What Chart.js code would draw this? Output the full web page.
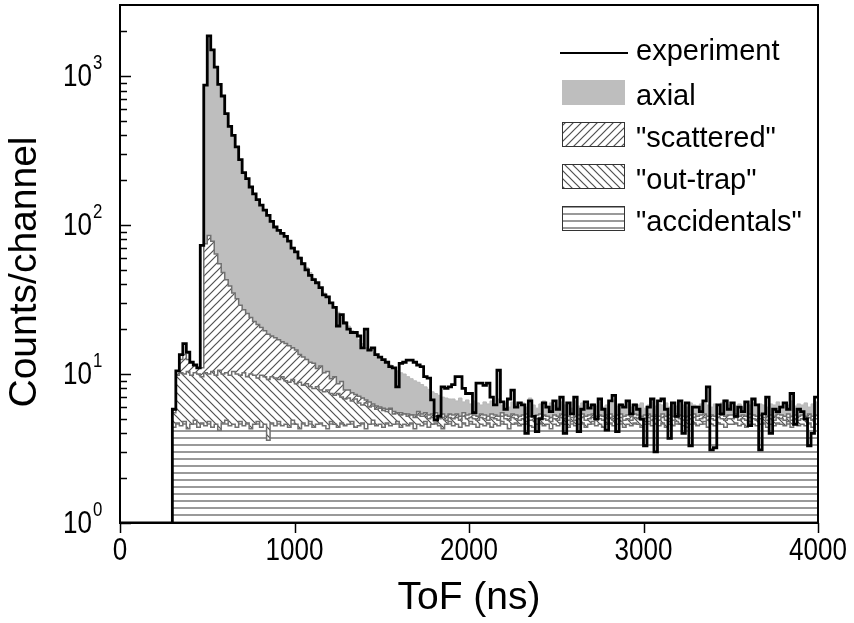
<!DOCTYPE html>
<html lang="en">
<head>
<meta charset="UTF-8">
<title>ToF spectrum</title>
<script src="https://cdn.jsdelivr.net/npm/chart.js@4"></script>
<style>
  html, body { margin: 0; padding: 0; background: #fff; }
</style>
</head>
<body>
<canvas id="tofChart" width="854" height="623"></canvas>
<script>
// channels: 20 ns wide, first channel starts at 300 ns
const tofStart = 300;
const binWidth = 20;
const tofEnd = 4000;
const yMin = 1;
const yMax = 3000;
const xTicks = [0, 1000, 2000, 3000, 4000];
const yDecades = [0, 1, 2, 3];

// counts/channel, one row = 10 channels (200 ns)
const experiment = [
  5.8, 10.5, 13.5, 16, 14, 12, 11.5, 11, 73, 870,        // 300
  1860, 1500, 1150, 880, 735, 560, 460, 400, 335, 275,   // 500
  225, 205, 180, 162, 148, 136, 126, 116, 106, 97,       // 700
  92, 88, 84, 78, 70, 66, 60, 55, 50, 46,                // 900
  43, 41, 38, 34, 33, 30, 28, 21, 25, 22,                // 1100
  20, 19, 19, 18, 15, 20, 14.5, 15, 13.5, 13,            // 1300
  12.5, 12, 11.2, 11, 8.2, 11.8, 12, 12.4, 12.4, 12,     // 1500
  11.5, 11.2, 9.6, 9.4, 6.7, 4.9, 5.2, 8.2, 8.0, 8.2,    // 1700
  8.5, 9.6, 9.6, 8, 7.4, 7.4, 5.5, 8.7, 8.7, 8.4,        // 1900
  8.7, 7.0, 6.2, 10.6, 6.5, 5.8, 6.8, 7.8, 6.0, 6.4,     // 2100
  6.2, 4.0, 6.6, 5.2, 4.1, 5.0, 6.4, 6.0, 5.6, 6.6,      // 2300
  5.8, 7.0, 4.0, 6.4, 5.4, 7.0, 4.1, 5.8, 6.5, 5.9,      // 2500
  6.2, 5.0, 6.8, 5.8, 4.2, 6.6, 7.2, 4.1, 6.2, 6.0,      // 2700
  6.6, 5.4, 6.2, 5.8, 5.0, 3.3, 6.0, 6.8, 3.0, 6.6,      // 2900
  6.8, 5.8, 3.7, 6.4, 5.2, 6.6, 4.0, 6.4, 3.3, 6.0,      // 3100
  6.0, 5.6, 6.6, 8.2, 3.1, 3.2, 6.2, 5.4, 6.6, 5.8,      // 3300
  6.4, 5.2, 6.0, 5.6, 6.5, 4.5, 6.8, 6.2, 3.1, 5.4,      // 3500
  7.0, 4.0, 5.8, 5.6, 6.0, 6.4, 5.8, 7.4, 4.6, 5.8,      // 3700
  5.6, 5.0, 3.3, 4.0, 7.0                                // 3900
];

// simulated components, each given as the top of its stacked band
const axial = [
  null, null, null, null, null, null, null, null, null, 860,
  1850, 1500, 1150, 880, 730, 560, 460, 395, 335, 275,
  225, 203, 180, 163, 148, 136, 125, 115, 106, 97,
  91, 86, 81, 76, 71, 66, 61, 56, 52, 48,
  44, 41, 38, 35, 32, 30, 28, 26, 24, 22.5,
  21, 19.5, 18.5, 17, 16, 15, 14.5, 14, 13.5, 13,
  12.5, 12, 11.5, 11, 10.5, 10.2, 10, 9.6, 9.3, 9.0,
  8.8, 8.5, 8.2, 7.9, 7.6, 7.4, 7.2, 7.0, 6.9, 6.8,
  6.8, 6.6, 6.9, 6.5, 6.7, 6.3, 6.6, 6.4, 6.2, 6.5,
  6.3, 6.6, 6.1, 6.8, 6.2, 6.4, 6.0, 6.5, 6.3, 6.1,
  6.4, 6.0, 6.9, 6.2, 5.9, 6.3, 6.6, 6.1, 6.4, 6.2,
  6.0, 6.5, 6.2, 6.3, 5.9, 6.6, 6.1, 6.4, 6.2, 6.0,
  6.3, 6.1, 6.5, 6.0, 6.2, 6.4, 6.7, 6.1, 6.3, 6.2,
  6.5, 6.0, 6.3, 6.2, 6.4, 5.9, 6.2, 6.5, 6.1, 6.3,
  6.2, 6.4, 6.0, 6.3, 6.1, 6.6, 6.2, 6.0, 6.4, 6.2,
  6.1, 6.3, 6.5, 6.2, 6.0, 6.3, 6.1, 6.4, 6.7, 6.2,
  6.4, 6.1, 6.3, 6.0, 6.5, 6.2, 6.4, 6.1, 6.3, 6.2,
  6.0, 6.3, 6.2, 6.5, 6.1, 6.4, 6.2, 6.6, 6.1, 6.3,
  6.2, 6.4, 6.0, 6.3, 6.5
];

const scattered = [
  5.8, 10.5, 12.5, 13.5, 12.5, 12, 11.5, 11, 11, 75,
  85, 78, 64, 55, 48, 43, 39, 35, 32, 29,
  27, 25.5, 24, 22.5, 21.5, 20.5, 19.5, 18.5, 18, 17.5,
  17, 16.5, 16, 15.5, 15, 14.5, 13.5, 13, 12.5, 12,
  11.8, 10.9, 11.3, 10.2, 10.4, 9.3, 9.6, 8.6, 8.9, 7.8,
  7.8, 7.5, 7.3, 7.1, 6.9, 6.7, 6.5, 6.3, 6.1, 6.0,
  5.9, 5.8, 5.9, 5.6, 5.5, 5.5, 5.4, 5.4, 5.3, 5.3,
  5.6, 5.4, 5.5, 5.3, 5.4, 5.5, 5.3, 5.4, 5.2, 5.4,
  5.3, 5.4, 5.2, 5.5, 5.3, 5.4, 5.3, 5.2, 5.4, 5.3,
  5.2, 5.4, 5.3, 5.2, 5.5, 5.3, 5.2, 5.4, 5.3, 5.2,
  5.3, 5.4, 5.2, 5.2, 5.3, 5.4, 5.3, 5.2, 5.1, 5.3,
  5.2, 5.4, 5.3, 5.2, 5.4, 5.2, 5.3, 5.4, 5.2, 5.3,
  5.4, 5.2, 5.3, 5.2, 5.3, 5.4, 5.2, 5.3, 5.4, 5.2,
  5.3, 5.2, 5.4, 5.3, 5.2, 5.3, 5.4, 5.2, 5.3, 5.2,
  5.4, 5.2, 5.3, 5.2, 5.4, 5.3, 5.2, 5.2, 5.3, 5.4,
  5.2, 5.3, 5.4, 5.2, 5.3, 5.2, 5.4, 5.3, 5.2, 5.3,
  5.3, 5.4, 5.2, 5.3, 5.2, 5.4, 5.3, 5.2, 5.3, 5.4,
  5.2, 5.3, 5.2, 5.4, 5.3, 5.2, 5.4, 5.2, 5.3, 5.2,
  5.3, 5.2, 5.4, 5.2, 5.3
];

const outTrap = [
  5.5, 9.8, 10.2, 10, 10.4, 9.8, 10.2, 10, 9.6, 10.2,
  10, 10.4, 9.8, 10.6, 10, 10.2, 9.8, 10.4, 10, 9.8,
  10.2, 9.6, 10, 9.8, 9.4, 9.8, 9.6, 9.2, 9.6, 9.4,
  9.2, 9.6, 9.0, 8.8, 9.2, 8.6, 8.8, 8.4, 8.6, 8.2,
  8.0, 8.2, 7.8, 7.6, 7.8, 7.4, 7.2, 7.4, 7.0, 6.8,
  6.9, 6.6, 6.8, 6.4, 6.2, 6.4, 6.0, 6.1, 5.8, 5.9,
  5.7, 5.6, 5.8, 5.4, 5.5, 5.3, 5.4, 5.2, 5.3, 5.1,
  5.3, 5.2, 5.2, 5.0, 5.1, 5.2, 5.0, 5.1, 4.9, 5.1,
  5.0, 5.1, 4.9, 5.2, 5.0, 5.1, 5.0, 4.9, 5.1, 5.0,
  4.9, 5.1, 5.0, 4.9, 5.2, 5.0, 4.9, 5.1, 5.0, 4.9,
  5.0, 5.1, 4.9, 4.9, 5.0, 5.1, 5.0, 4.9, 4.8, 5.0,
  4.9, 5.1, 5.0, 4.9, 5.1, 4.9, 5.0, 5.1, 4.9, 5.0,
  5.1, 4.9, 5.0, 4.9, 5.0, 5.1, 4.9, 5.0, 5.1, 4.9,
  5.0, 4.9, 5.1, 5.0, 4.9, 5.0, 5.1, 4.9, 5.0, 4.9,
  5.1, 4.9, 5.0, 4.9, 5.1, 5.0, 4.9, 4.9, 5.0, 5.1,
  4.9, 5.0, 5.1, 4.9, 5.0, 4.9, 5.1, 5.0, 4.9, 5.0,
  5.0, 5.1, 4.9, 5.0, 4.9, 5.1, 5.0, 4.9, 5.0, 5.1,
  4.9, 5.0, 4.9, 5.1, 5.0, 4.9, 5.1, 4.9, 5.0, 4.9,
  5.0, 4.9, 5.1, 4.9, 5.0
];

const accidentals = [
  4.4, 4.7, 4.5, 4.8, 4.3, 4.6, 4.9, 4.4, 4.7, 4.5,
  4.8, 4.4, 4.6, 4.2, 4.7, 4.9, 4.5, 4.6, 4.4, 4.8,
  4.5, 4.7, 4.3, 4.6, 4.8, 4.4, 4.6, 3.6, 4.7, 4.5,
  4.8, 4.5, 4.6, 4.4, 4.9, 4.6, 4.3, 4.7, 4.5, 4.8,
  4.4, 4.6, 4.7, 4.5, 4.3, 4.8, 4.6, 4.4, 4.7, 4.5,
  4.6, 4.8, 4.4, 4.5, 4.7, 4.3, 4.6, 4.9, 4.5, 4.6,
  4.4, 4.7, 4.5, 4.6, 4.8, 4.4, 4.6, 4.5, 4.7, 4.3,
  4.6, 4.5, 4.8, 4.4, 4.6, 4.7, 4.5, 4.3, 4.6, 4.8,
  4.5, 4.6, 4.4, 4.7, 4.5, 4.8, 4.6, 4.4, 4.6, 4.5,
  4.7, 4.4, 4.6, 4.5, 4.8, 4.6, 4.3, 4.6, 4.7, 4.5,
  4.6, 4.8, 4.5, 4.4, 4.6, 4.7, 4.5, 4.6, 4.3, 4.6,
  4.5, 4.7, 4.6, 4.4, 4.8, 4.5, 4.6, 4.7, 4.4, 4.6,
  4.8, 4.5, 4.6, 4.4, 4.6, 4.7, 4.5, 4.6, 4.8, 4.4,
  4.6, 4.5, 4.7, 4.6, 4.4, 4.6, 4.8, 4.5, 4.6, 4.5,
  4.7, 4.4, 4.6, 4.5, 4.8, 4.6, 4.5, 4.4, 4.6, 4.7,
  4.5, 4.6, 4.8, 4.4, 4.6, 4.5, 4.7, 4.6, 4.4, 4.6,
  4.6, 4.7, 4.5, 4.6, 4.4, 4.8, 4.6, 4.5, 4.6, 4.7,
  4.4, 4.6, 4.5, 4.7, 4.6, 4.5, 4.8, 4.4, 4.6, 4.5,
  4.6, 4.5, 4.7, 4.4, 4.6
];

const seriesNames = ['experiment', 'axial', '"scattered"', '"out-trap"', '"accidentals"'];
const xTitle = 'ToF (ns)';
const yTitle = 'Counts/channel';

// histogram outline: rises from the floor at `from`, one step per channel
function histPoints(values, from) {
  const pts = [];
  let last = null;
  values.forEach((v, i) => {
    if (v === null) return;
    const x0 = tofStart + i * binWidth;
    if (!pts.length) pts.push({ x: from === undefined ? x0 : from, y: yMin });
    pts.push({ x: x0, y: v });
    last = v;
  });
  pts.push({ x: tofEnd, y: last });
  return pts;
}

const canvas = document.getElementById('tofChart');
const ctx = canvas.getContext('2d');

function hatch(kind) {
  const c = document.createElement('canvas');
  const g = c.getContext('2d');
  if (kind === '-') {
    c.width = 4; c.height = 7;
    g.fillStyle = '#fff'; g.fillRect(0, 0, 4, 7);
    g.fillStyle = '#999'; g.fillRect(0, 3, 4, 2);
    return ctx.createPattern(c, 'repeat');
  }
  const s = 8;
  c.width = s; c.height = s;
  g.fillStyle = '#fff'; g.fillRect(0, 0, s, s);
  g.strokeStyle = '#505050'; g.lineWidth = 1.2;
  g.beginPath();
  if (kind === '/') {
    g.moveTo(0, s); g.lineTo(s, 0);
    g.moveTo(-s / 2, s / 2); g.lineTo(s / 2, -s / 2);
    g.moveTo(s / 2, s * 1.5); g.lineTo(s * 1.5, s / 2);
  } else {
    g.moveTo(0, 0); g.lineTo(s, s);
    g.moveTo(-s / 2, s / 2); g.lineTo(s / 2, s * 1.5);
    g.moveTo(s / 2, -s / 2); g.lineTo(s * 1.5, s / 2);
  }
  g.stroke();
  return ctx.createPattern(c, 'repeat');
}

const sansFont = '"Liberation Sans", Arial, Helvetica, sans-serif';

// tick numbers in the original are a narrow face: squeeze Liberation Sans horizontally
function narrowText(c, text, x, y, align, size) {
  c.save();
  c.font = size + 'px ' + sansFont;
  c.translate(x, y);
  c.scale(0.84, 1);
  c.textAlign = align;
  c.fillText(text, 0, 0);
  c.restore();
}

const histStyle = { stepped: true, pointRadius: 0, fill: 'start', borderWidth: 1.5, borderColor: '#707070' };

const datasets = [
  { label: seriesNames[0], data: histPoints(experiment, 0), stepped: true, pointRadius: 0, fill: false,
    borderColor: '#000', borderWidth: 2.8, order: 0 },
  Object.assign({ label: seriesNames[1], data: histPoints(axial), order: 4 }, histStyle,
    { backgroundColor: '#bebebe', borderColor: '#b8b8b8', borderWidth: 1 }),
  Object.assign({ label: seriesNames[2], data: histPoints(scattered), order: 3 }, histStyle,
    { backgroundColor: hatch('/') }),
  Object.assign({ label: seriesNames[3], data: histPoints(outTrap), order: 2 }, histStyle,
    { backgroundColor: hatch('\\') }),
  Object.assign({ label: seriesNames[4], data: histPoints(accidentals), order: 1 }, histStyle,
    { backgroundColor: hatch('-') })
];

// frame, tick marks, tick numbers, y title and the legend
const decor = {
  id: 'decor',
  afterDraw(chart) {
    const { ctx, chartArea: a, scales: { x, y } } = chart;
    ctx.save();
    ctx.strokeStyle = '#000';
    ctx.lineWidth = 2;
    ctx.strokeRect(a.left, a.top, a.right - a.left, a.bottom - a.top);

    ctx.lineWidth = 1.5;
    yDecades.forEach(d => {
      for (let m = 1; m <= 9; m++) {
        const v = m * Math.pow(10, d);
        if (v >= yMax) break;
        const py = Math.round(y.getPixelForValue(v)) + 0.5;
        ctx.beginPath();
        ctx.moveTo(a.left, py);
        ctx.lineTo(a.left + (m === 1 ? 11 : 7), py);
        ctx.stroke();
      }
    });
    xTicks.forEach(v => {
      const px = Math.round(x.getPixelForValue(v)) + 0.5;
      ctx.beginPath();
      ctx.moveTo(px, a.bottom);
      ctx.lineTo(px, a.bottom + 10);
      ctx.stroke();
    });

    ctx.fillStyle = '#000';
    ctx.textBaseline = 'alphabetic';
    xTicks.forEach(v => {
      narrowText(ctx, String(v), x.getPixelForValue(v), a.bottom + 37, 'center', 31);
    });
    yDecades.forEach(d => {
      const py = y.getPixelForValue(Math.pow(10, d));
      narrowText(ctx, '10', a.left - 28, py + 10, 'right', 31);
      narrowText(ctx, String(d), a.left - 27, py - 7, 'left', 20);
    });

    // y title
    ctx.save();
    ctx.translate(25, 272);
    ctx.rotate(-Math.PI / 2);
    ctx.font = '39px ' + sansFont;
    ctx.textAlign = 'center';
    ctx.textBaseline = 'middle';
    ctx.fillText(yTitle, 0, 0);
    ctx.restore();

    // legend
    const lx = 560, tx = 636;
    const rows = [60, 105, 147, 189, 231];
    ctx.font = '29px ' + sansFont;
    ctx.textAlign = 'left';
    ctx.textBaseline = 'alphabetic';
    chart.data.datasets.forEach((ds, i) => {
      const base = rows[i];
      if (i === 0) {
        ctx.strokeStyle = ds.borderColor;
        ctx.lineWidth = 2.2;
        ctx.beginPath();
        ctx.moveTo(lx, base - 7);
        ctx.lineTo(lx + 68, base - 7);
        ctx.stroke();
      } else {
        ctx.fillStyle = ds.backgroundColor;
        ctx.fillRect(lx + 2, base - 25, 63, 25);
        if (i > 1) {
          ctx.strokeStyle = '#333';
          ctx.lineWidth = 1;
          ctx.strokeRect(lx + 2.5, base - 24.5, 62, 24);
        }
      }
      ctx.fillStyle = '#000';
      ctx.fillText(ds.label, tx, base);
    });
    ctx.restore();
  }
};

new Chart(ctx, {
  type: 'line',
  data: { datasets: datasets },
  options: {
    responsive: false,
    animation: false,
    events: [],
    layout: { padding: { top: 5, right: 36, left: 0, bottom: 0 } },
    plugins: { legend: { display: false }, tooltip: { enabled: false } },
    scales: {
      x: {
        type: 'linear',
        min: 0,
        max: tofEnd,
        afterFit: s => { s.height = 100; s.paddingLeft = 0; s.paddingRight = 0; },
        grid: { display: false, drawTicks: false },
        border: { display: false },
        ticks: { display: false },
        title: {
          display: true,
          text: xTitle,
          color: '#000',
          font: { family: sansFont, size: 39 },
          padding: { top: 0, bottom: 1 }
        }
      },
      y: {
        type: 'logarithmic',
        min: yMin,
        max: yMax,
        afterFit: s => { s.width = 120; s.paddingTop = 0; s.paddingBottom = 0; },
        grid: { display: false, drawTicks: false },
        border: { display: false },
        ticks: { display: false },
        title: { display: false }
      }
    }
  },
  plugins: [decor]
});
</script>
</body>
</html>
